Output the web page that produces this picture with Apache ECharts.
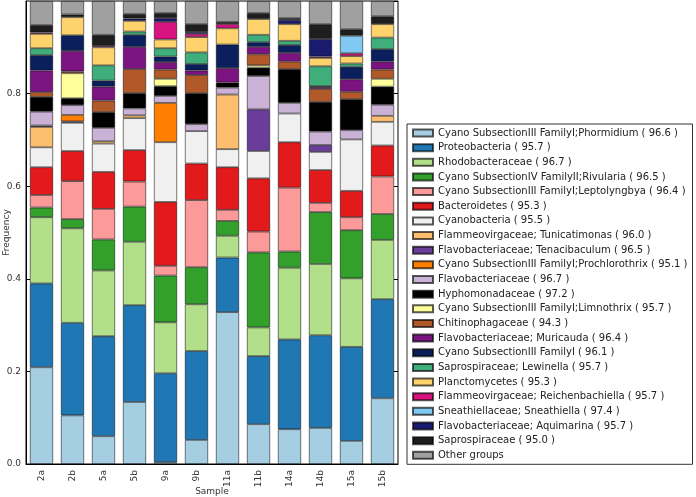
<!DOCTYPE html>
<html>
<head>
<meta charset="utf-8">
<script src="https://cdn.jsdelivr.net/npm/echarts@6/dist/echarts.min.js"></script>
<style>
  html, body { margin: 0; padding: 0; background: #fff; }
  #chart { width: 696px; height: 497px; }
</style>
</head>
<body>
<div id="chart"></div>
<script>
// samples on the x axis
var samples = ['2a', '2b', '5a', '5b', '9a', '9b', '11a', '11b', '14a', '14b', '15a', '15b'];
var yTicks = [0, 0.2, 0.4, 0.6, 0.8, 1.0];

// frequencies per group, one value per sample
var phormidium      = [0.209, 0.105, 0.060, 0.134, 0.004, 0.052, 0.328, 0.086, 0.075, 0.078, 0.050, 0.142];
var proteobacteria  = [0.181, 0.200, 0.216, 0.209, 0.192, 0.192, 0.118, 0.147, 0.194, 0.200, 0.203, 0.214];
var rhodobacter     = [0.143, 0.204, 0.142, 0.137, 0.110, 0.101, 0.047, 0.062, 0.155, 0.154, 0.148, 0.128];
var rivularia       = [0.021, 0.020, 0.067, 0.076, 0.101, 0.080, 0.032, 0.162, 0.035, 0.112, 0.104, 0.056];
var leptolyngbya    = [0.027, 0.082, 0.066, 0.054, 0.021, 0.145, 0.024, 0.045, 0.138, 0.020, 0.028, 0.081];
var bacteroidetes   = [0.060, 0.065, 0.080, 0.068, 0.138, 0.079, 0.092, 0.115, 0.098, 0.071, 0.057, 0.067];
var cyanobacteria   = [0.043, 0.061, 0.061, 0.069, 0.129, 0.070, 0.039, 0.059, 0.062, 0.039, 0.111, 0.051];
var tunicatimonas   = [0.044, 0,     0.005, 0.006, 0,     0,     0.118, 0,     0,     0,     0,     0.013];
var tenacibaculum   = [0.003, 0.003, 0,     0,     0,     0,     0,     0.090, 0,     0.015, 0,     0];
var prochlorothrix  = [0,     0.014, 0,     0,     0.085, 0,     0,     0,     0,     0,     0,     0];
var flavobacter     = [0.030, 0.021, 0.029, 0.015, 0.015, 0.015, 0.015, 0.072, 0.023, 0.029, 0.020, 0.024];
var hyphomonad      = [0.032, 0.015, 0.034, 0.033, 0.021, 0.067, 0.011, 0.018, 0.073, 0.064, 0.067, 0.039];
var limnothrix      = [0,     0.054, 0,     0,     0.016, 0,     0,     0.005, 0,     0,     0,     0.017];
var chitinophag     = [0.010, 0.004, 0.025, 0.052, 0.020, 0.039, 0,     0.024, 0.016, 0.028, 0.016, 0.020];
var muricauda       = [0.047, 0.044, 0.030, 0.048, 0.016, 0.010, 0.031, 0.016, 0.019, 0.004, 0.027, 0.017];
var familyI         = [0.033, 0.034, 0.013, 0.026, 0.012, 0.014, 0.051, 0.010, 0.017, 0.002, 0.027, 0.027];
var lewinella       = [0.015, 0,     0.033, 0.007, 0.018, 0.025, 0,     0.016, 0.009, 0.043, 0.007, 0.025];
var planctomycetes  = [0.031, 0.039, 0.039, 0.023, 0.019, 0.033, 0.035, 0.034, 0.036, 0.018, 0.016, 0.029];
var reichenbach     = [0.003, 0,     0.003, 0,     0.038, 0.007, 0.009, 0,     0,     0.003, 0.006, 0];
var sneathiella     = [0,     0,     0,     0,     0,     0,     0,     0,     0,     0,     0.038, 0];
var aquimarina      = [0,     0,     0,     0.005, 0.008, 0.004, 0,     0,     0.009, 0.038, 0,     0];
var saprospira      = [0.016, 0.006, 0.024, 0.010, 0.011, 0.017, 0.005, 0.013, 0.004, 0.032, 0.014, 0.017];
var otherGroups     = [0.052, 0.029, 0.073, 0.028, 0.026, 0.050, 0.045, 0.026, 0.037, 0.050, 0.061, 0.033];

var groupNames = [
	'Cyano SubsectionIII FamilyI;Phormidium ( 96.6 )',
	'Proteobacteria ( 95.7 )',
	'Rhodobacteraceae ( 96.7 )',
	'Cyano SubsectionIV FamilyII;Rivularia ( 96.5 )',
	'Cyano SubsectionIII FamilyI;Leptolyngbya ( 96.4 )',
	'Bacteroidetes ( 95.3 )',
	'Cyanobacteria ( 95.5 )',
	'Flammeovirgaceae; Tunicatimonas ( 96.0 )',
	'Flavobacteriaceae; Tenacibaculum ( 96.5 )',
	'Cyano SubsectionIII FamilyI;Prochlorothrix ( 95.1 )',
	'Flavobacteriaceae ( 96.7 )',
	'Hyphomonadaceae ( 97.2 )',
	'Cyano SubsectionIII FamilyI;Limnothrix ( 95.7 )',
	'Chitinophagaceae ( 94.3 )',
	'Flavobacteriaceae; Muricauda ( 96.4 )',
	'Cyano SubsectionIII FamilyI ( 96.1 )',
	'Saprospiraceae; Lewinella ( 95.7 )',
	'Planctomycetes ( 95.3 )',
	'Flammeovirgaceae; Reichenbachiella ( 95.7 )',
	'Sneathiellaceae; Sneathiella ( 97.4 )',
	'Flavobacteriaceae; Aquimarina ( 95.7 )',
	'Saprospiraceae ( 95.0 )',
	'Other groups'
];
var groupValues = [phormidium, proteobacteria, rhodobacter, rivularia, leptolyngbya, bacteroidetes,
	cyanobacteria, tunicatimonas, tenacibaculum, prochlorothrix, flavobacter, hyphomonad, limnothrix,
	chitinophag, muricauda, familyI, lewinella, planctomycetes, reichenbach, sneathiella, aquimarina,
	saprospira, otherGroups];
var groupColors = ['#a6cee3', '#1f78b4', '#b2df8a', '#33a02c', '#fb9a99', '#e31a1c', '#f0f0f0',
	'#fdbf6f', '#6a3d9a', '#ff7f00', '#cab2d6', '#000000', '#ffff99', '#b15928', '#7b1380',
	'#0a1f5c', '#3fae7a', '#fed36e', '#d8127f', '#80c8f2', '#1a1a6e', '#1e1e1e', '#a0a0a0'];

var font = 'DejaVu Sans';

var series = groupNames.map(function(name, i) {
	return {
		name: name,
		type: 'bar',
		stack: 'total',
		barCategoryGap: '25%',
		data: groupValues[i].map(function(v) { return v === 0 ? null : v; }),
		itemStyle: {
			color: groupColors[i],
			borderColor: 'rgba(0,0,0,0.65)',
			borderWidth: 0.8
		}
	};
});

var chart = echarts.init(document.getElementById('chart'));
chart.setOption({
	animation: false,
	textStyle: { fontFamily: font },
	grid: {
		left: 26, top: 1, width: 372, height: 463,
		outerBoundsMode: 'none',
		containLabel: false,
		show: true, borderColor: '#000', borderWidth: 1
	},
	legend: {
		orient: 'vertical',
		left: 407, top: 124,
		padding: [4, 5, 4, 5],
		borderColor: '#333', borderWidth: 1,
		itemWidth: 20, itemHeight: 7, itemGap: 4.65,
		icon: 'rect',
		textStyle: { fontFamily: font, fontSize: 10, color: '#222', lineHeight: 10 },
		data: groupNames
	},
	xAxis: [{
		type: 'category',
		data: samples,
		name: 'Sample',
		nameLocation: 'middle',
		nameGap: 23,
		nameMoveOverlap: false,
		nameTextStyle: { fontSize: 9, color: '#333' },
		axisLine: { lineStyle: { color: '#000' } },
		axisTick: { inside: true, alignWithLabel: true, length: 4, lineStyle: { color: '#000' } },
		axisLabel: { rotate: 90, fontSize: 9, color: '#333', margin: 6 }
	}, {
		type: 'category',
		data: samples,
		position: 'top',
		axisLine: { show: false },
		axisTick: { inside: true, alignWithLabel: true, length: 4, lineStyle: { color: '#000' } },
		axisLabel: { show: false }
	}],
	yAxis: [{
		type: 'value',
		min: 0, max: 1, interval: 0.2,
		name: 'Frequency',
		nameLocation: 'middle',
		nameGap: 15,
		nameMoveOverlap: false,
		nameTextStyle: { fontSize: 9, color: '#333' },
		splitLine: { show: false },
		axisLine: { show: true, lineStyle: { color: '#000' } },
		axisTick: { show: true, inside: true, length: 4, lineStyle: { color: '#000' } },
		axisLabel: {
			fontSize: 9, color: '#333', margin: 5, showMaxLabel: false,
			formatter: function(v) { return v.toFixed(1); }
		}
	}, {
		type: 'value',
		min: 0, max: 1, interval: 0.2,
		position: 'right',
		splitLine: { show: false },
		axisLine: { show: false },
		axisTick: { show: true, inside: true, length: 4, lineStyle: { color: '#000' } },
		axisLabel: { show: false }
	}],
	series: series
});
</script>
</body>
</html>
